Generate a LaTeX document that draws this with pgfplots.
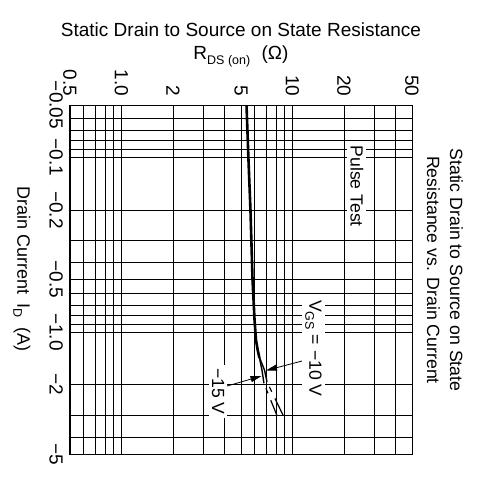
\documentclass[border=0pt]{standalone}
\usepackage{fontspec}
\setmainfont{Liberation Sans}
\usepackage{pgfplots}
\pgfplotsset{compat=1.18}
\usetikzlibrary{arrows.meta}
\begin{document}
\begin{tikzpicture}
\path[use as bounding box] (-70pt,-23pt) rectangle (412pt,454pt);
\begin{axis}[
  at={(0pt,0pt)}, anchor=south west,
  scale only axis, width=342pt, height=349pt,
  xmode=log, ymode=log, y dir=reverse,
  xmin=0.5, xmax=50, ymin=0.05, ymax=5,
  xtick={0.5,1,2,5,10,20,50},
  xticklabels={0.5,1.0,2,5,10,20,50},
  minor xtick={0.6,0.7,0.8,0.9,3,4,6,7,8,9,30,40},
  ytick={0.05,0.1,0.2,0.5,1,2,5},
  yticklabels={−0.05,−0.1,−0.2,−0.5,−1.0,−2,−5},
  minor ytick={0.06,0.07,0.08,0.09,0.3,0.4,0.6,0.7,0.8,0.9,3,4},
  grid=both,
  major grid style={black, line width=0.8pt},
  minor grid style={black, line width=0.8pt},
  major tick length=0pt, minor tick length=0pt,
  xticklabel pos=upper,
  tick label style={font=\fontsize{19}{22}\selectfont},
  xticklabel style={rotate=-90, anchor=east, inner xsep=8.5pt, inner ysep=2pt},
  yticklabel style={rotate=-90, anchor=north, inner ysep=7pt, inner xsep=2pt},
  axis line style={line width=1pt},
]
% main curve
\addplot[black, line width=2.6pt, line join=round] coordinates {
 (5.385,0.05) (5.53,0.1033) (5.68,0.2) (5.84,0.503) (6.00,0.853)
 (6.12,1.111) (6.26,1.268) (6.41,1.409)};
% VGS = -15 V branch
\addplot[black, line width=1.4pt] coordinates {(6.41,1.409) (6.63,1.65) (6.81,1.967)};
% VGS = -10 V branch
\addplot[black, line width=1.4pt] coordinates {(6.43,1.409) (6.86,1.65) (7.10,1.934)};
% dashed continuations
\addplot[black, line width=1.2pt, dash pattern=on 0pt off 5.4pt on 5.4pt off 7.5pt on 20pt] coordinates {(6.81,1.967) (8.09,2.99)};
\addplot[black, line width=1.2pt, dash pattern=on 0pt off 5.4pt on 5.4pt off 7.5pt on 20pt] coordinates {(7.10,1.934) (8.80,2.99)};
% arrows
\draw[black, line width=0.8pt, -{Triangle[length=11pt,width=6pt]}] (axis cs:4.14,2.04) -- (axis cs:6.59,1.787);
\draw[black, line width=0.8pt, -{Triangle[length=11pt,width=6pt]}] (axis cs:11.37,1.466) -- (axis cs:7.00,1.661);
% annotations
\node[fill=white, rotate=-90, inner sep=3pt, font=\fontsize{17.6}{21}\selectfont] at (axis cs:23.8,0.146) {Pulse Test};
\node[fill=white, rotate=-90, inner sep=3pt, font=\fontsize{17.6}{21}\selectfont] at (axis cs:13.27,1.24) {V\raisebox{-4pt}{\fontsize{12.5}{14}\selectfont GS} = −10 V};
\node[fill=white, rotate=-90, inner sep=3pt, font=\fontsize{17.6}{21}\selectfont] at (axis cs:3.67,2.19) {−15 V};
\end{axis}
\node[anchor=base, font=\fontsize{19}{22}\selectfont] at (171pt,417pt) {Static Drain to Source on State Resistance};
\node[anchor=base, font=\fontsize{19}{22}\selectfont] at (171pt,394pt) {R\raisebox{-5pt}{\fontsize{12.5}{14}\selectfont DS (on)}\hspace{0.6em}(Ω)};
\node[rotate=-90, font=\fontsize{18}{21}\selectfont] at (-48pt,185pt) {Drain Current\hspace{0.5em}I\raisebox{-4pt}{\fontsize{12.5}{14}\selectfont D}\hspace{0.6em}(A)};
\node[rotate=-90, align=center, font=\fontsize{17.7}{23}\selectfont] at (375pt,184pt) {Static Drain to Source on State\\Resistance vs. Drain Current};
\end{tikzpicture}
\end{document}
